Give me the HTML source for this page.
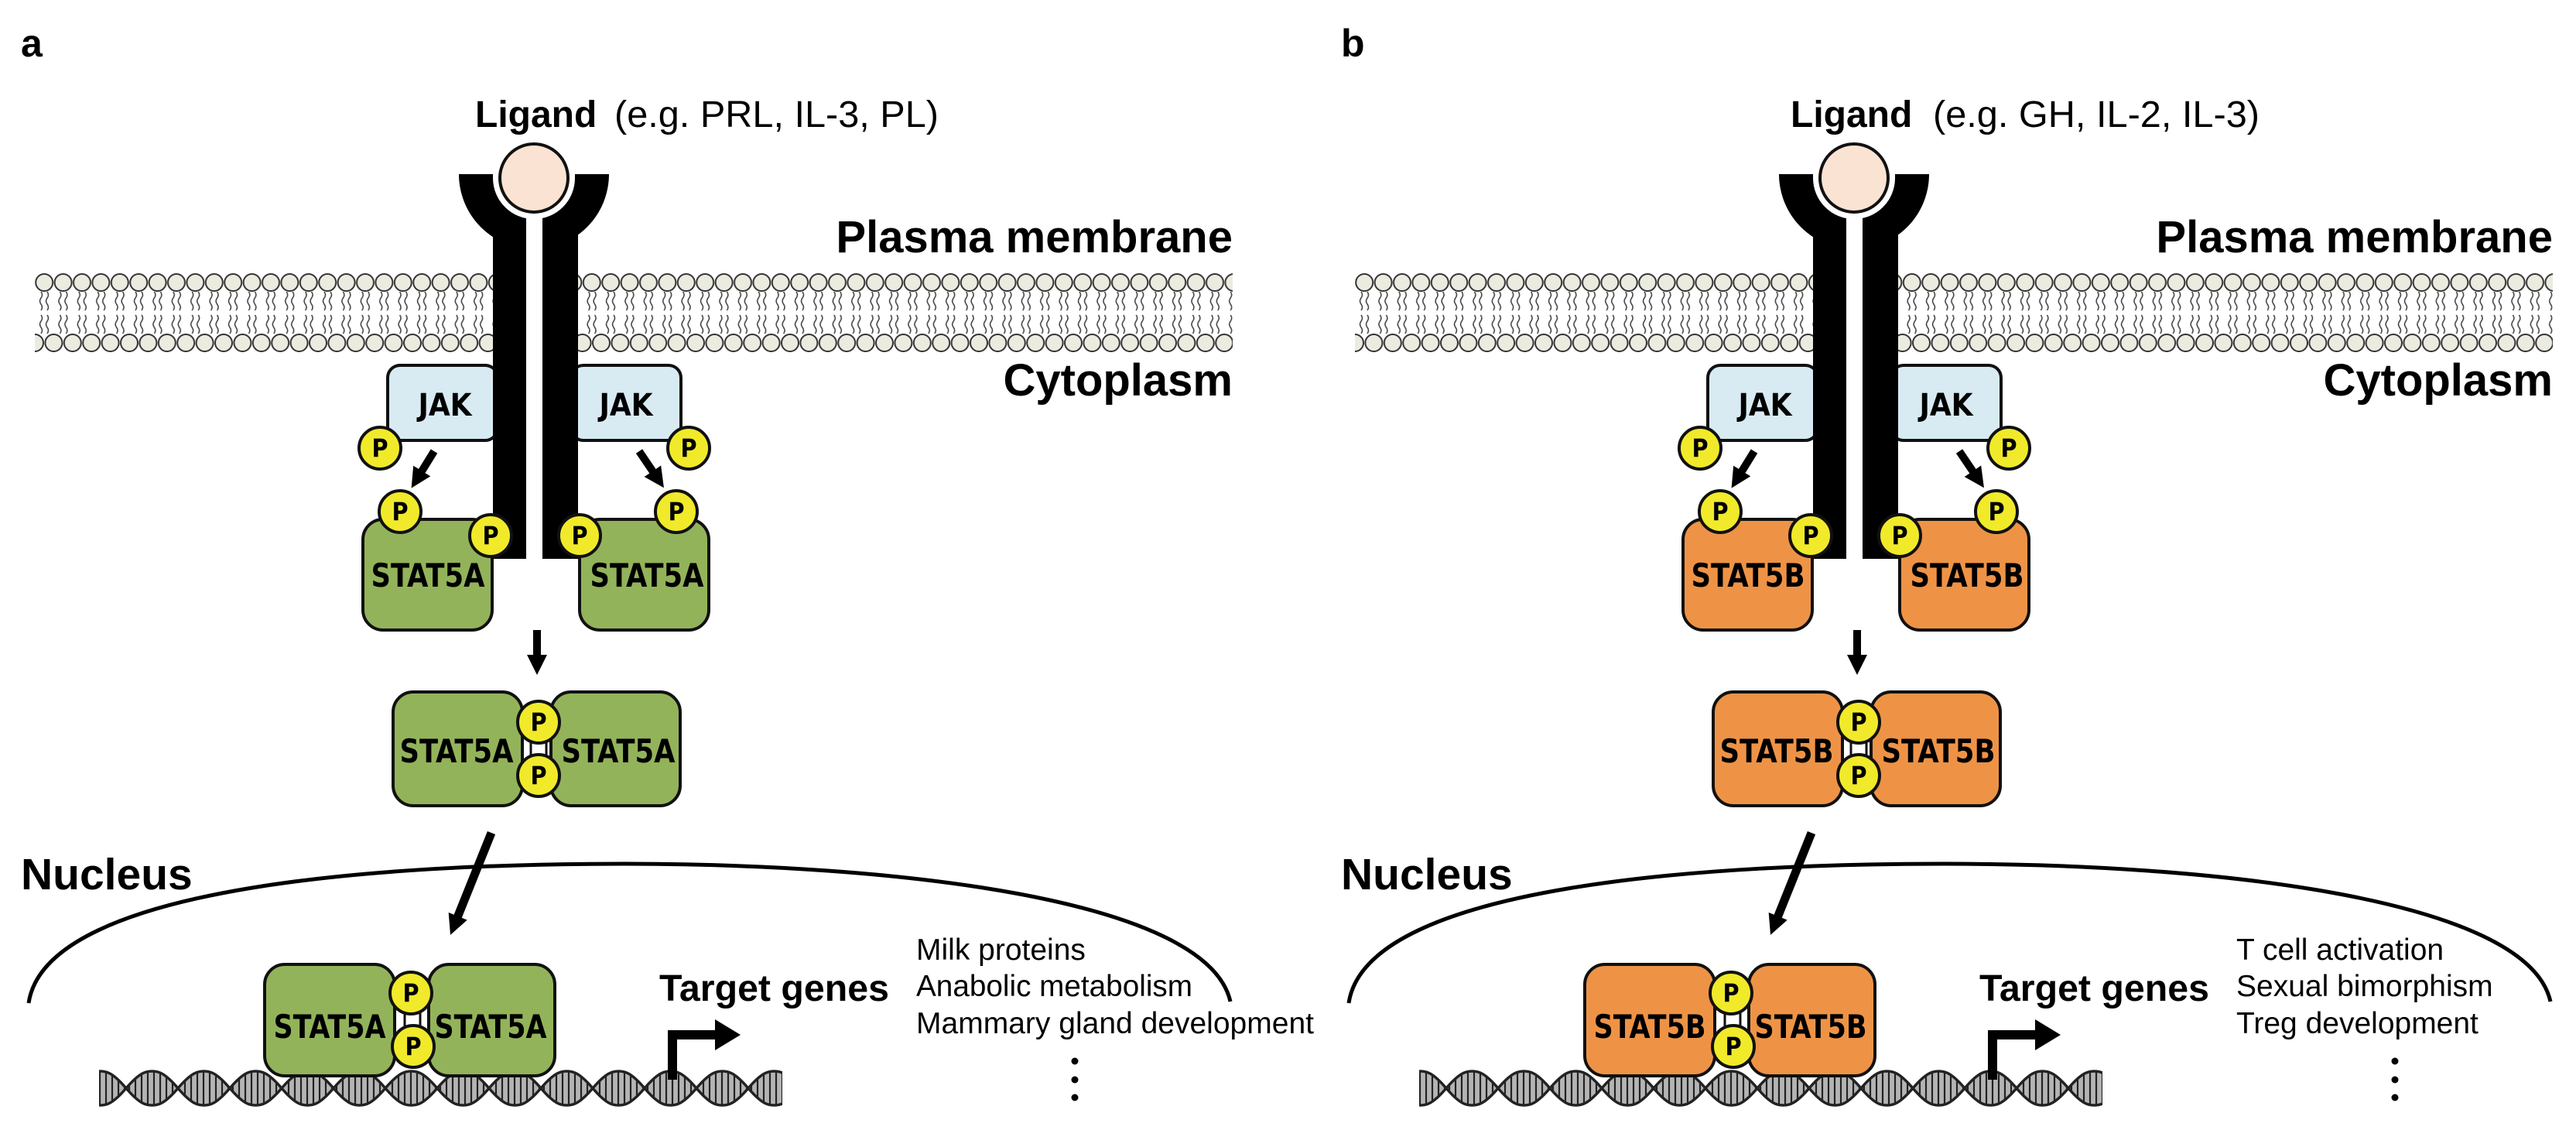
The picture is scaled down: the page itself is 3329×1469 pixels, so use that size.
<!DOCTYPE html>
<html><head><meta charset="utf-8"><style>
html,body{margin:0;padding:0;background:#fff;}
svg{display:block;}
.b{font-family:"Liberation Sans",Arial,sans-serif;font-weight:bold;fill:#000;}
.r{font-family:"Liberation Sans",Arial,sans-serif;fill:#000;}
.c{font-family:"DejaVu Sans Condensed","Liberation Sans Narrow","Liberation Sans",sans-serif;font-weight:bold;fill:#000;}
.p{fill:#f1ea2a;stroke:#111;stroke-width:4;}
.pt{font-family:"DejaVu Sans Condensed","Liberation Sans",sans-serif;font-weight:bold;font-size:32px;text-anchor:middle;fill:#000;}
</style></head><body>
<svg width="3329" height="1469" viewBox="0 0 3329 1469" xmlns="http://www.w3.org/2000/svg">
<defs>
<pattern id="mem" patternUnits="userSpaceOnUse" x="45" y="353" width="24.4" height="102">
<g fill="none" stroke="#444" stroke-width="1.6">
<path d="M8,24 q3,4 0,8 q-3,4 0,8 q3,4 0,8"/><path d="M16,24 q3,4 0,8 q-3,4 0,8 q3,4 0,8"/>
<path d="M8,54 q3,4 0,8 q-3,4 0,8 q3,4 0,8"/><path d="M16,54 q3,4 0,8 q-3,4 0,8 q3,4 0,8"/>
</g>
<circle cx="12.2" cy="12" r="11" fill="#ecebe0" stroke="#333" stroke-width="2"/>
<circle cx="0" cy="90" r="11" fill="#ecebe0" stroke="#333" stroke-width="2"/>
<circle cx="24.4" cy="90" r="11" fill="#ecebe0" stroke="#333" stroke-width="2"/>
</pattern>
<pattern id="stripe" patternUnits="userSpaceOnUse" width="8" height="10">
<rect width="8" height="10" fill="#b4b4b4"/><line x1="4" y1="0" x2="4" y2="10" stroke="#222" stroke-width="2.2"/>
</pattern>
<pattern id="dna" patternUnits="userSpaceOnUse" x="163" y="1382" width="134" height="48">
<path d="M0,24 C18,3 26,2 33.5,2 C41,2 49,3 67,24 C49,45 41,46 33.5,46 C26,46 18,45 0,24 Z" fill="url(#stripe)" stroke="#222" stroke-width="3.5"/>
<path d="M67,24 C85,3 93,2 100.5,2 C108,2 116,3 134,24 C116,45 108,46 100.5,46 C93,46 85,45 67,24 Z" fill="url(#stripe)" stroke="#222" stroke-width="3.5"/>
</pattern>
<marker id="ah" markerUnits="userSpaceOnUse" markerWidth="30" markerHeight="28" refX="10" refY="13" orient="auto">
<path d="M0,0 L26,13 L0,26 Z" fill="#000"/>
</marker>
</defs>

<!-- PANEL A -->
<g id="pa">
<text class="b" x="27" y="73" font-size="50">a</text>
<text class="b" x="614" y="164" font-size="48">Ligand</text>
<text class="r" x="794" y="164" font-size="48" textLength="419" lengthAdjust="spacingAndGlyphs">(e.g. PRL, IL-3, PL)</text>
<text class="b" x="1593" y="326" font-size="58" text-anchor="end">Plasma membrane</text>
<text class="b" x="1593" y="511" font-size="58" text-anchor="end">Cytoplasm</text>
<rect x="45" y="353" width="1548" height="102" fill="url(#mem)"/>
<rect x="501" y="472" width="142" height="97" rx="16" fill="#d8eaf2" stroke="#111" stroke-width="4"/>
<rect x="738" y="472" width="142" height="97" rx="16" fill="#d8eaf2" stroke="#111" stroke-width="4"/>
<text class="c" x="575" y="537" font-size="40" text-anchor="middle">JAK</text>
<text class="c" x="809" y="537" font-size="40" text-anchor="middle">JAK</text>
<path d="M593,225 A97,97 0 0 0 787,225 L743,225 A53,53 0 0 1 637,225 Z" fill="#000"/>
<rect x="637" y="240" width="43" height="482" fill="#000"/>
<rect x="701" y="240" width="46" height="482" fill="#000"/>
<rect x="680" y="250" width="21" height="480" fill="#fff"/>
<circle cx="690" cy="230" r="53" fill="#fff"/>
<circle cx="690" cy="230" r="44" fill="#fbe3d3" stroke="#111" stroke-width="4"/>
<circle class="p" cx="491" cy="579" r="27"/><text class="pt" x="491" y="590">P</text>
<circle class="p" cx="890" cy="579" r="27"/><text class="pt" x="890" y="590">P</text>
<line x1="561" y1="583" x2="540" y2="617" stroke="#000" stroke-width="10" marker-end="url(#ah)"/>
<line x1="826" y1="583" x2="849" y2="617" stroke="#000" stroke-width="10" marker-end="url(#ah)"/>
<rect x="469" y="671" width="167" height="143" rx="26" fill="#93b35a" stroke="#111" stroke-width="4"/>
<rect x="749" y="671" width="167" height="143" rx="26" fill="#93b35a" stroke="#111" stroke-width="4"/>
<text class="c" x="553" y="758" font-size="42" text-anchor="middle" textLength="147" lengthAdjust="spacingAndGlyphs">STAT5A</text>
<text class="c" x="836" y="758" font-size="42" text-anchor="middle" textLength="147" lengthAdjust="spacingAndGlyphs">STAT5A</text>
<circle class="p" cx="517" cy="661" r="27"/><text class="pt" x="517" y="672">P</text>
<circle class="p" cx="634" cy="692" r="27"/><text class="pt" x="634" y="703">P</text>
<circle class="p" cx="749" cy="692" r="27"/><text class="pt" x="749" y="703">P</text>
<circle class="p" cx="874" cy="661" r="27"/><text class="pt" x="874" y="672">P</text>
<line x1="694" y1="814" x2="694" y2="856" stroke="#000" stroke-width="10" marker-end="url(#ah)"/>
<rect x="508" y="894" width="167" height="147" rx="26" fill="#93b35a" stroke="#111" stroke-width="4"/>
<rect x="712" y="894" width="167" height="147" rx="26" fill="#93b35a" stroke="#111" stroke-width="4"/>
<rect x="686" y="950" width="20" height="36" fill="#fff" stroke="#111" stroke-width="3"/>
<circle class="p" cx="696" cy="933" r="27"/><text class="pt" x="696" y="944">P</text>
<circle class="p" cx="696" cy="1002" r="27"/><text class="pt" x="696" y="1013">P</text>
<text class="c" x="590" y="985" font-size="42" text-anchor="middle" textLength="147" lengthAdjust="spacingAndGlyphs">STAT5A</text>
<text class="c" x="799" y="985" font-size="42" text-anchor="middle" textLength="147" lengthAdjust="spacingAndGlyphs">STAT5A</text>
<text class="b" x="27" y="1149" font-size="57">Nucleus</text>
<path d="M37,1296 C60,1140 520,1116 807,1116 C1150,1116 1560,1160 1590,1294" fill="none" stroke="#000" stroke-width="5"/>
<line x1="635" y1="1076" x2="588" y2="1193" stroke="#000" stroke-width="11" marker-end="url(#ah)"/>
<rect x="128" y="1382" width="883" height="48" fill="url(#dna)"/>
<rect x="342" y="1246" width="168" height="144" rx="26" fill="#93b35a" stroke="#111" stroke-width="4"/>
<rect x="554" y="1246" width="163" height="144" rx="26" fill="#93b35a" stroke="#111" stroke-width="4"/>
<rect x="523" y="1300" width="20" height="36" fill="#fff" stroke="#111" stroke-width="3"/>
<circle class="p" cx="531" cy="1283" r="27"/><text class="pt" x="531" y="1294">P</text>
<circle class="p" cx="534" cy="1352" r="27"/><text class="pt" x="534" y="1363">P</text>
<text class="c" x="426" y="1341" font-size="42" text-anchor="middle" textLength="145" lengthAdjust="spacingAndGlyphs">STAT5A</text>
<text class="c" x="634" y="1341" font-size="42" text-anchor="middle" textLength="145" lengthAdjust="spacingAndGlyphs">STAT5A</text>
<polyline points="869,1395 869,1337 926,1337" fill="none" stroke="#000" stroke-width="12"/>
<polygon points="924,1317 957,1337 924,1357" fill="#000"/>
<text class="b" x="852" y="1293" font-size="48" textLength="297" lengthAdjust="spacingAndGlyphs">Target genes</text>
<text class="r" x="1184" y="1240" font-size="39">Milk proteins</text>
<text class="r" x="1184" y="1287" font-size="39" textLength="357" lengthAdjust="spacingAndGlyphs">Anabolic metabolism</text>
<text class="r" x="1184" y="1335" font-size="39" textLength="514" lengthAdjust="spacingAndGlyphs">Mammary gland development</text>
<circle cx="1389" cy="1371" r="4.5"/><circle cx="1389" cy="1395" r="4.5"/><circle cx="1389" cy="1418" r="4.5"/>
</g>

<!-- PANEL B -->
<g transform="translate(1706,0)">
<text class="b" x="27" y="73" font-size="50">b</text>
<text class="b" x="608" y="164" font-size="48">Ligand</text>
<text class="r" x="792" y="164" font-size="48" textLength="422" lengthAdjust="spacingAndGlyphs">(e.g. GH, IL-2, IL-3)</text>
<text class="b" x="1593" y="326" font-size="58" text-anchor="end">Plasma membrane</text>
<text class="b" x="1593" y="511" font-size="58" text-anchor="end">Cytoplasm</text>
<rect x="45" y="353" width="1548" height="102" fill="url(#mem)"/>
<rect x="501" y="472" width="142" height="97" rx="16" fill="#d8eaf2" stroke="#111" stroke-width="4"/>
<rect x="738" y="472" width="142" height="97" rx="16" fill="#d8eaf2" stroke="#111" stroke-width="4"/>
<text class="c" x="575" y="537" font-size="40" text-anchor="middle">JAK</text>
<text class="c" x="809" y="537" font-size="40" text-anchor="middle">JAK</text>
<path d="M593,225 A97,97 0 0 0 787,225 L743,225 A53,53 0 0 1 637,225 Z" fill="#000"/>
<rect x="637" y="240" width="43" height="482" fill="#000"/>
<rect x="701" y="240" width="46" height="482" fill="#000"/>
<rect x="680" y="250" width="21" height="480" fill="#fff"/>
<circle cx="690" cy="230" r="53" fill="#fff"/>
<circle cx="690" cy="230" r="44" fill="#fbe3d3" stroke="#111" stroke-width="4"/>
<circle class="p" cx="491" cy="579" r="27"/><text class="pt" x="491" y="590">P</text>
<circle class="p" cx="890" cy="579" r="27"/><text class="pt" x="890" y="590">P</text>
<line x1="561" y1="583" x2="540" y2="617" stroke="#000" stroke-width="10" marker-end="url(#ah)"/>
<line x1="826" y1="583" x2="849" y2="617" stroke="#000" stroke-width="10" marker-end="url(#ah)"/>
<rect x="469" y="671" width="167" height="143" rx="26" fill="#ee9346" stroke="#111" stroke-width="4"/>
<rect x="749" y="671" width="167" height="143" rx="26" fill="#ee9346" stroke="#111" stroke-width="4"/>
<text class="c" x="553" y="758" font-size="42" text-anchor="middle" textLength="147" lengthAdjust="spacingAndGlyphs">STAT5B</text>
<text class="c" x="836" y="758" font-size="42" text-anchor="middle" textLength="147" lengthAdjust="spacingAndGlyphs">STAT5B</text>
<circle class="p" cx="517" cy="661" r="27"/><text class="pt" x="517" y="672">P</text>
<circle class="p" cx="634" cy="692" r="27"/><text class="pt" x="634" y="703">P</text>
<circle class="p" cx="749" cy="692" r="27"/><text class="pt" x="749" y="703">P</text>
<circle class="p" cx="874" cy="661" r="27"/><text class="pt" x="874" y="672">P</text>
<line x1="694" y1="814" x2="694" y2="856" stroke="#000" stroke-width="10" marker-end="url(#ah)"/>
<rect x="508" y="894" width="167" height="147" rx="26" fill="#ee9346" stroke="#111" stroke-width="4"/>
<rect x="712" y="894" width="167" height="147" rx="26" fill="#ee9346" stroke="#111" stroke-width="4"/>
<rect x="686" y="950" width="20" height="36" fill="#fff" stroke="#111" stroke-width="3"/>
<circle class="p" cx="696" cy="933" r="27"/><text class="pt" x="696" y="944">P</text>
<circle class="p" cx="696" cy="1002" r="27"/><text class="pt" x="696" y="1013">P</text>
<text class="c" x="590" y="985" font-size="42" text-anchor="middle" textLength="147" lengthAdjust="spacingAndGlyphs">STAT5B</text>
<text class="c" x="799" y="985" font-size="42" text-anchor="middle" textLength="147" lengthAdjust="spacingAndGlyphs">STAT5B</text>
<text class="b" x="27" y="1149" font-size="57">Nucleus</text>
<path d="M37,1296 C60,1140 520,1116 807,1116 C1150,1116 1560,1160 1590,1294" fill="none" stroke="#000" stroke-width="5"/>
<line x1="635" y1="1076" x2="588" y2="1193" stroke="#000" stroke-width="11" marker-end="url(#ah)"/>
<rect x="128" y="1382" width="883" height="48" fill="url(#dna)"/>
<rect x="342" y="1246" width="168" height="144" rx="26" fill="#ee9346" stroke="#111" stroke-width="4"/>
<rect x="554" y="1246" width="163" height="144" rx="26" fill="#ee9346" stroke="#111" stroke-width="4"/>
<rect x="523" y="1300" width="20" height="36" fill="#fff" stroke="#111" stroke-width="3"/>
<circle class="p" cx="531" cy="1283" r="27"/><text class="pt" x="531" y="1294">P</text>
<circle class="p" cx="534" cy="1352" r="27"/><text class="pt" x="534" y="1363">P</text>
<text class="c" x="426" y="1341" font-size="42" text-anchor="middle" textLength="145" lengthAdjust="spacingAndGlyphs">STAT5B</text>
<text class="c" x="634" y="1341" font-size="42" text-anchor="middle" textLength="145" lengthAdjust="spacingAndGlyphs">STAT5B</text>
<polyline points="869,1395 869,1337 926,1337" fill="none" stroke="#000" stroke-width="12"/>
<polygon points="924,1317 957,1337 924,1357" fill="#000"/>
<text class="b" x="852" y="1293" font-size="48" textLength="297" lengthAdjust="spacingAndGlyphs">Target genes</text>
<text class="r" x="1184" y="1240" font-size="39">T cell activation</text>
<text class="r" x="1184" y="1287" font-size="39">Sexual bimorphism</text>
<text class="r" x="1184" y="1335" font-size="39">Treg development</text>
<circle cx="1389" cy="1371" r="4.5"/><circle cx="1389" cy="1395" r="4.5"/><circle cx="1389" cy="1418" r="4.5"/>
</g>
</svg>
</body></html>
